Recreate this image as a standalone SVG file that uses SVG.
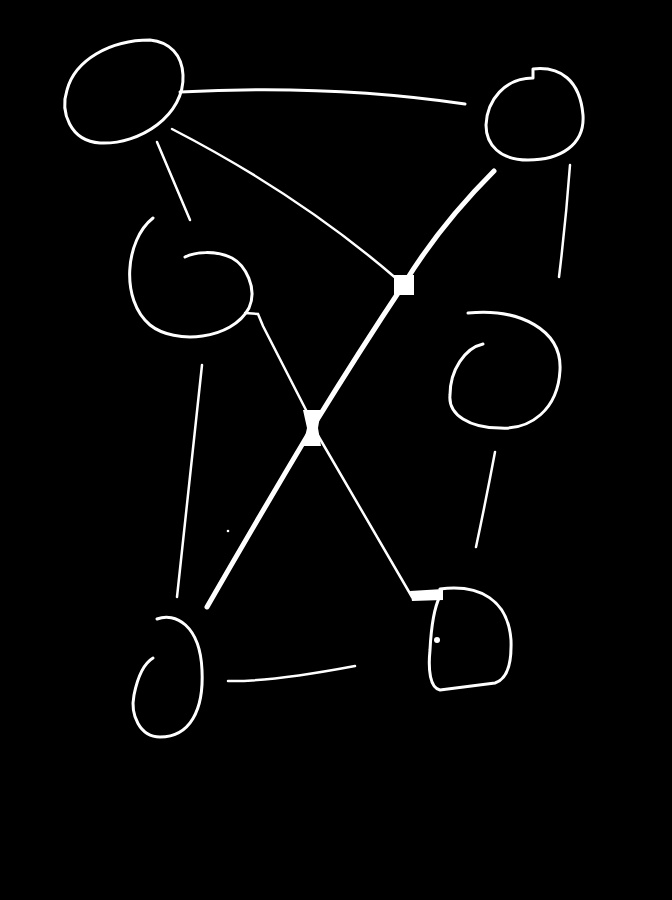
<svg xmlns="http://www.w3.org/2000/svg" width="672" height="900" viewBox="0 0 672 900">
<style>
.s{fill:none;stroke:#fff;stroke-width:3;stroke-linecap:round;stroke-linejoin:round}
.t{fill:none;stroke:#fff;stroke-width:2.5;stroke-linecap:round}
.k{fill:none;stroke:#fff;stroke-width:5;stroke-linecap:round;stroke-linejoin:round}
.f{fill:#fff;stroke:none}
</style>
<rect width="672" height="900" fill="#000"/>
<g id="connectors">
<path class="s" d="M180,92 Q330,84 465,104"/>
<path class="t" d="M172,129 Q300,195 398,280"/>
<path class="t" d="M157,142 L190,220"/>
<path class="k" d="M494,171 Q440,225 404,284 Q360,350 312,428 Q260,515 207,607"/>
<path class="t" d="M316,432 L412,597"/>
<path class="t" d="M245,313 L258,314 L263,326 L306,410"/>
<path class="t" d="M202,365 L177,597"/>
<path class="t" d="M570,165 Q566,220 559,277"/>
<path class="t" d="M495,452 Q486,500 476,547"/>
<path class="t" d="M228,681 Q270,682 355,666"/>
<circle class="f" cx="228" cy="531" r="1.3"/>
</g>
<g id="junction1"><rect class="f" x="394" y="275" width="20" height="20"/></g>
<g id="junction2"><path class="f" d="M303,410 L321,410 L318,428 L321,446 L303,446 L307,428 Z"/></g>
<g id="node-top-left"><path class="s" d="M183,75 C185,115 140,145 100,143 C70,141 60,112 67,90 C75,60 110,40 150,40 C170,42 182,55 183,75 Z"/></g>
<g id="node-top-right"><path class="s" d="M533,69 C560,66 580,80 583,115 C585,145 560,160 528,160 C500,160 486,145 486,125 C487,100 505,78 533,78 Z"/></g>
<g id="node-mid-left"><path class="s" d="M153,218 C125,240 120,300 150,325 C175,345 232,340 249,308 C258,288 245,265 232,258 C215,250 195,252 185,257"/></g>
<g id="node-mid-right"><path class="s" d="M468,313 C520,308 562,330 560,370 C558,410 530,430 500,428 C470,428 448,415 450,395 C450,370 465,348 483,344"/></g>
<g id="node-bottom-left"><path class="s" d="M157,619 C175,612 200,625 202,670 C204,710 190,737 160,737 C140,737 130,715 134,695 C137,680 143,664 153,658"/></g>
<g id="node-bottom-right">
<path class="f" d="M410,591 L443,589 L443,600 L412,601 Z"/>
<path class="s" d="M440,589 C480,584 508,600 511,640 C512,668 505,680 495,683 L440,690 C430,688 428,670 430,650 C431,630 433,610 440,596"/>
<circle class="f" cx="437" cy="640" r="3"/>
</g>
</svg>
